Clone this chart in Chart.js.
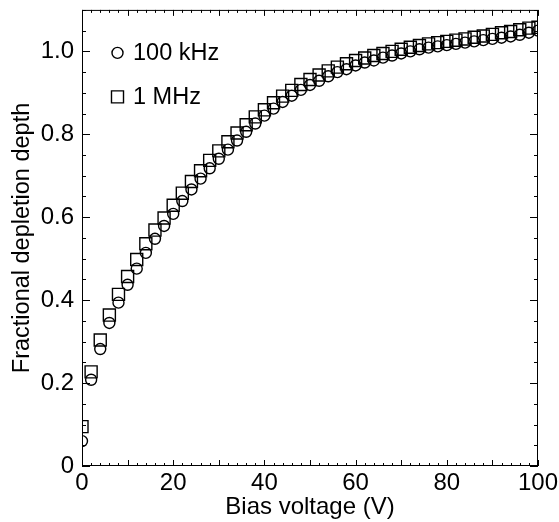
<!DOCTYPE html>
<html>
<head>
<meta charset="utf-8">
<script src="https://cdn.jsdelivr.net/npm/chart.js@4/dist/chart.umd.min.js"></script>
<style>
  html, body { margin: 0; padding: 0; background: #fff; }
  canvas { display: block; }
</style>
</head>
<body>
<canvas id="depthChart" width="559" height="522"></canvas>
<script>
// bias voltage (V)
const biasVoltage = [0, 2, 4, 6, 8, 10, 12, 14, 16, 18, 20, 22, 24, 26, 28, 30, 32, 34, 36, 38,
  40, 42, 44, 46, 48, 50, 52, 54, 56, 58, 60, 62, 64, 66, 68, 70, 72, 74, 76, 78,
  80, 82, 84, 86, 88, 90, 92, 94, 96, 98, 100];

// fractional depletion depth, 100 kHz (circles)
const depth100k = [0.060, 0.208, 0.282, 0.345, 0.394, 0.437, 0.476, 0.514, 0.548, 0.579,
  0.608, 0.639, 0.667, 0.693, 0.718, 0.741, 0.763, 0.785, 0.806, 0.826,
  0.845, 0.862, 0.878, 0.893, 0.907, 0.919, 0.929, 0.940, 0.950, 0.957,
  0.966, 0.973, 0.978, 0.985, 0.990, 0.995, 1.000, 1.005, 1.009, 1.012,
  1.015, 1.018, 1.021, 1.024, 1.027, 1.030, 1.033, 1.036, 1.040, 1.045, 1.050];

// fractional depletion depth, 1 MHz (squares)
const depth1M = [0.095, 0.227, 0.304, 0.364, 0.414, 0.457, 0.498, 0.536, 0.569, 0.598,
  0.629, 0.658, 0.686, 0.712, 0.737, 0.760, 0.782, 0.803, 0.823, 0.842,
  0.859, 0.876, 0.892, 0.906, 0.920, 0.932, 0.943, 0.953, 0.962, 0.970,
  0.978, 0.984, 0.990, 0.995, 1.000, 1.005, 1.010, 1.014, 1.018, 1.021,
  1.024, 1.027, 1.030, 1.034, 1.037, 1.041, 1.045, 1.048, 1.052, 1.056, 1.058];

const seriesLabels = ['100 kHz', '1 MHz'];
const xTickLabels = [0, 20, 40, 60, 80, 100];
const yTickLabels = [0, 0.2, 0.4, 0.6, 0.8, 1.0];

const FONT = '"Liberation Sans", Arial, Helvetica, sans-serif';

function toPoints(ys) {
  return biasVoltage.map((v, i) => ({ x: v, y: ys[i] }));
}

// 枠線と内向きの目盛り
const frameTicks = {
  id: 'frameTicks',
  afterDraw(chart) {
    const { ctx, chartArea: a, scales } = chart;
    const xs = scales.x, ys = scales.y;
    ctx.save();
    ctx.strokeStyle = '#000';
    ctx.lineWidth = 1;
    ctx.strokeRect(a.left + 0.5, a.top + 0.5, a.right - a.left - 1, a.bottom - a.top - 1);
    ctx.beginPath();
    for (let v = 0; v <= 100; v += 2) {
      const px = Math.round(xs.getPixelForValue(v)) + 0.5;
      const len = v % 10 === 0 ? 6 : 3;
      ctx.moveTo(px, a.bottom); ctx.lineTo(px, a.bottom - len);
      ctx.moveTo(px, a.top); ctx.lineTo(px, a.top + len);
    }
    for (let k = 0; k <= 22; k++) {
      const v = k * 0.05;
      const py = Math.round(ys.getPixelForValue(v)) + 0.5;
      const len = k % 4 === 0 ? 8 : 4;
      ctx.moveTo(a.left, py); ctx.lineTo(a.left + len, py);
      ctx.moveTo(a.right, py); ctx.lineTo(a.right - len, py);
    }
    ctx.stroke();
    ctx.restore();
  }
};

// 凡例（プロット内左上）
const insideLegend = {
  id: 'insideLegend',
  afterDraw(chart) {
    const { ctx, chartArea: a } = chart;
    ctx.save();
    ctx.textBaseline = 'middle';
    chart.data.datasets.forEach((ds, i) => {
      const cx = a.left + 35.5;
      const cy = a.top + 43 + i * 44;
      ctx.fillStyle = 'rgba(0,0,0,0)';
      ctx.strokeStyle = '#000';
      ctx.lineWidth = ds.borderWidth;
      Chart.helpers.drawPoint(ctx, {
        pointStyle: ds.pointStyle,
        radius: ds.pointRadius,
        borderWidth: ds.borderWidth
      }, cx, cy);
      ctx.font = '23.5px ' + FONT;
      ctx.fillStyle = '#000';
      ctx.fillText(ds.label, a.left + 51, cy + 1);
    });
    ctx.restore();
  }
};

new Chart(document.getElementById('depthChart'), {
  type: 'scatter',
  data: {
    datasets: [
      {
        label: seriesLabels[0],
        data: toPoints(depth100k),
        pointStyle: 'circle',
        pointRadius: 5.5,
        pointHoverRadius: 5.5,
        borderColor: '#000',
        backgroundColor: 'rgba(0,0,0,0)',
        borderWidth: 1.4
      },
      {
        label: seriesLabels[1],
        data: toPoints(depth1M),
        pointStyle: 'rect',
        pointRadius: 8.5,
        pointHoverRadius: 8.5,
        borderColor: '#000',
        backgroundColor: 'rgba(0,0,0,0)',
        borderWidth: 1.4
      }
    ]
  },
  options: {
    responsive: false,
    devicePixelRatio: 1,
    animation: false,
    layout: { padding: { top: 7, right: 21, left: 0, bottom: 0 } },
    plugins: {
      legend: { display: false },
      tooltip: { enabled: false }
    },
    scales: {
      x: {
        type: 'linear',
        min: 0,
        max: 100,
        grid: { display: false, drawTicks: false },
        border: { display: false },
        afterFit(scale) { scale.height = 56; scale.paddingLeft = 0; scale.paddingRight = 0; },
        afterBuildTicks(scale) { scale.ticks = xTickLabels.map(v => ({ value: v })); },
        ticks: {
          color: '#000',
          padding: 3,
          maxRotation: 0,
          font: { family: FONT, size: 24 },
          callback: v => String(v)
        },
        title: {
          display: true,
          text: 'Bias voltage (V)',
          color: '#000',
          padding: { top: 0, bottom: 0 },
          font: { family: FONT, size: 24 }
        }
      },
      y: {
        type: 'linear',
        min: 0,
        max: 1.1,
        grid: { display: false, drawTicks: false },
        border: { display: false },
        afterFit(scale) { scale.width = 82; scale.paddingTop = 0; scale.paddingBottom = 0; },
        afterBuildTicks(scale) { scale.ticks = yTickLabels.map(v => ({ value: v })); },
        ticks: {
          color: '#000',
          padding: 8,
          font: { family: FONT, size: 24 },
          callback: v => (v === 0 ? '0' : v.toFixed(1))
        },
        title: {
          display: true,
          text: 'Fractional depletion depth',
          color: '#000',
          padding: { top: 8, bottom: 0 },
          font: { family: FONT, size: 23.5 }
        }
      }
    }
  },
  plugins: [frameTicks, insideLegend]
});
</script>
</body>
</html>
